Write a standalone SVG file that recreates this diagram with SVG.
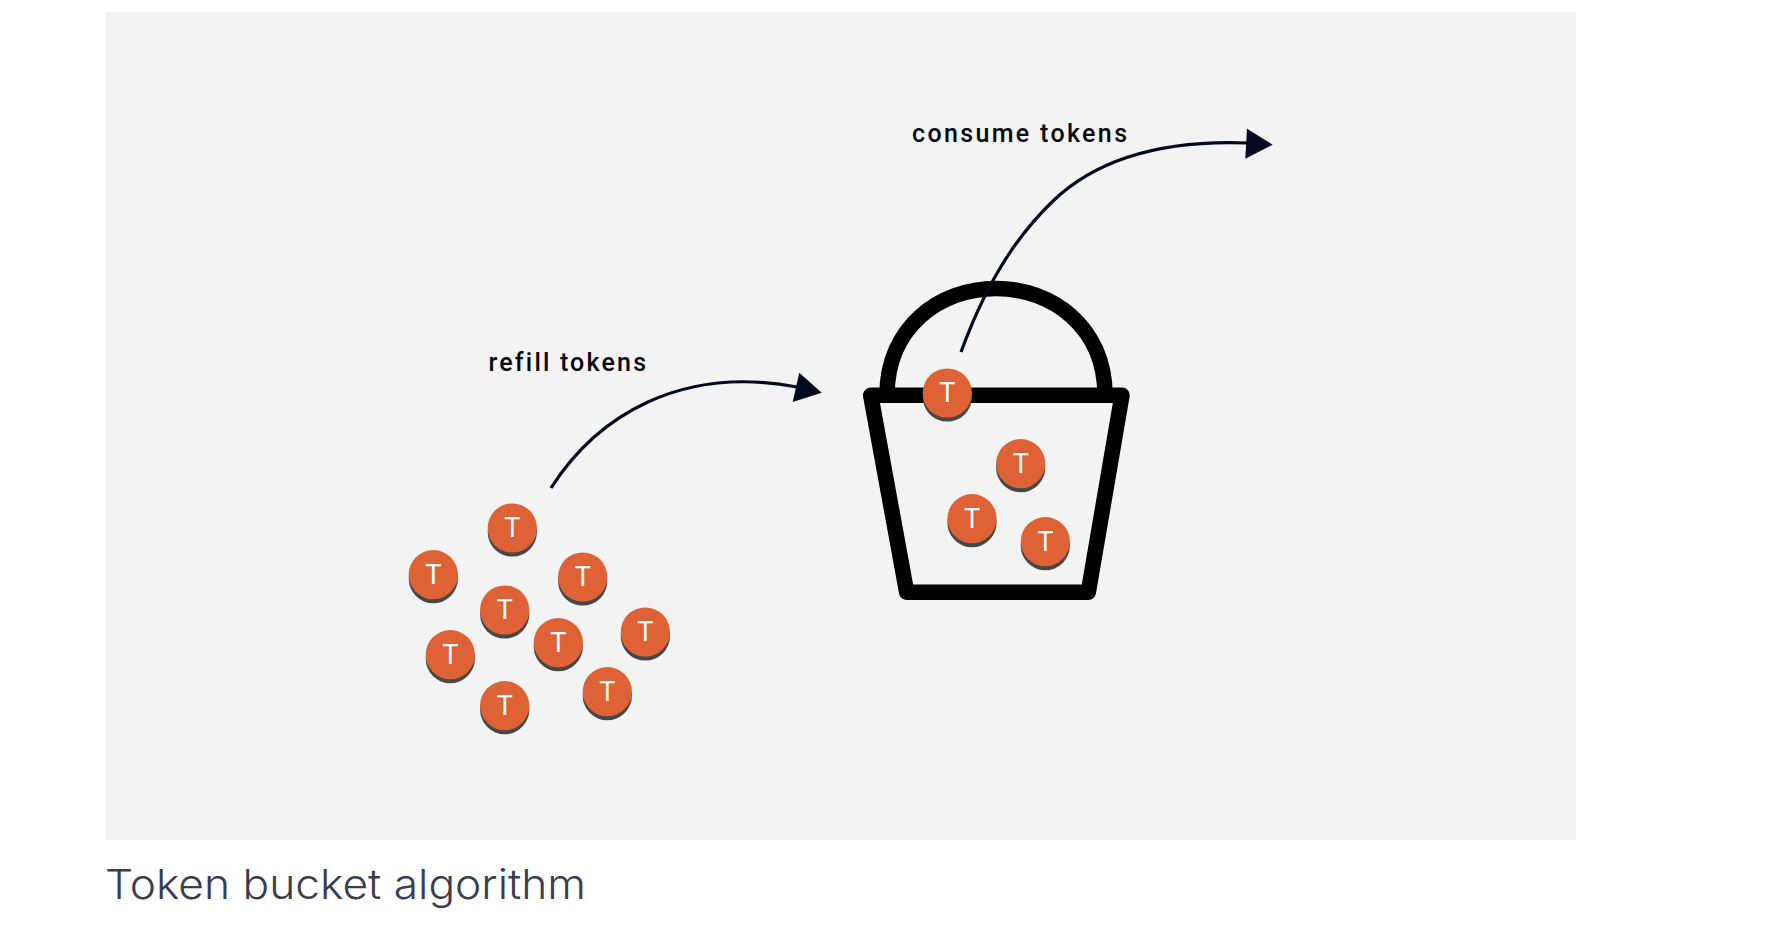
<svg xmlns="http://www.w3.org/2000/svg" width="1780" height="936" viewBox="0 0 1780 936">
<style>
.shadow{fill:#474747}
.coin{fill:#df6236}
.t{font-family:Roboto,"Liberation Sans",sans-serif;font-size:27px;font-weight:400;fill:#fff;text-anchor:middle}
.label{font-family:Roboto,"Liberation Sans",sans-serif;font-size:25px;font-weight:500;fill:#05070f;font-variant-ligatures:none}
.bucket{fill:none;stroke:#000;stroke-width:15.5;stroke-linejoin:round}
.conn{fill:none;stroke:#020a1f;stroke-width:3.2}
.head{fill:#020a1f}
</style>
<rect id="panel" x="106" y="12" width="1470" height="828" fill="#f3f3f3"/>
<g transform="translate(0,1)">
<g id="bucket">
<path class="bucket" d="M887 394 C887 326 940 287.5 996 287.5 C1052 287.5 1105 326 1105 394"/>
<path class="bucket" d="M870.7 394.3 H1122 L1088.3 591.3 H906.7 Z"/>
</g>
<g id="connectors">
<path class="conn" d="M551 487 C597 415 680 364 797 386"/>
<polygon class="head" points="821.7,391.7 799.3,371.7 792.7,401"/>
<path class="conn" d="M961 351 C990 272 1022 230 1053 200 C1100 155 1170 139 1248 142"/>
<polygon class="head" points="1272.7,143.7 1247,127.7 1245.3,157.7"/>
</g>
<g id="coin-1"><circle class="shadow" cx="512.3" cy="531" r="24.6"/><circle class="coin" cx="512.3" cy="527" r="24.6"/><text class="t" x="512.3" y="536">T</text></g>
<g id="coin-2"><circle class="shadow" cx="433.3" cy="577.7" r="24.6"/><circle class="coin" cx="433.3" cy="573.7" r="24.6"/><text class="t" x="433.3" y="582.7">T</text></g>
<g id="coin-3"><circle class="shadow" cx="582.7" cy="580" r="24.6"/><circle class="coin" cx="582.7" cy="576" r="24.6"/><text class="t" x="582.7" y="585">T</text></g>
<g id="coin-4"><circle class="shadow" cx="504.7" cy="613" r="24.6"/><circle class="coin" cx="504.7" cy="609" r="24.6"/><text class="t" x="504.7" y="618">T</text></g>
<g id="coin-5"><circle class="shadow" cx="558.3" cy="645.7" r="24.6"/><circle class="coin" cx="558.3" cy="641.7" r="24.6"/><text class="t" x="558.3" y="650.7">T</text></g>
<g id="coin-6"><circle class="shadow" cx="645.3" cy="635" r="24.6"/><circle class="coin" cx="645.3" cy="631" r="24.6"/><text class="t" x="645.3" y="640">T</text></g>
<g id="coin-7"><circle class="shadow" cx="450.3" cy="657.7" r="24.6"/><circle class="coin" cx="450.3" cy="653.7" r="24.6"/><text class="t" x="450.3" y="662.7">T</text></g>
<g id="coin-8"><circle class="shadow" cx="607.3" cy="694.7" r="24.6"/><circle class="coin" cx="607.3" cy="690.7" r="24.6"/><text class="t" x="607.3" y="699.7">T</text></g>
<g id="coin-9"><circle class="shadow" cx="504.7" cy="708.7" r="24.6"/><circle class="coin" cx="504.7" cy="704.7" r="24.6"/><text class="t" x="504.7" y="713.7">T</text></g>
<g id="coin-10"><circle class="shadow" cx="947.3" cy="396" r="24.6"/><circle class="coin" cx="947.3" cy="392" r="24.6"/><text class="t" x="947.3" y="401">T</text></g>
<g id="coin-11"><circle class="shadow" cx="1020.7" cy="466.7" r="24.6"/><circle class="coin" cx="1020.7" cy="462.7" r="24.6"/><text class="t" x="1020.7" y="471.7">T</text></g>
<g id="coin-12"><circle class="shadow" cx="972" cy="521.7" r="24.6"/><circle class="coin" cx="972" cy="517.7" r="24.6"/><text class="t" x="972" y="526.7">T</text></g>
<g id="coin-13"><circle class="shadow" cx="1045.3" cy="544.7" r="24.6"/><circle class="coin" cx="1045.3" cy="540.7" r="24.6"/><text class="t" x="1045.3" y="549.7">T</text></g>
</g>
<g id="label-refill"><text class="label" x="488.5" y="371" textLength="157.5">refill tokens</text></g>
<g id="label-consume"><text class="label" x="912" y="142" textLength="215">consume tokens</text></g>
<g id="caption"><text x="105" y="899" font-family="Inter,'Noto Sans',sans-serif" font-size="41" font-weight="300" fill="#3a3d50" textLength="481" lengthAdjust="spacingAndGlyphs">Token bucket algorithm</text></g>
</svg>
